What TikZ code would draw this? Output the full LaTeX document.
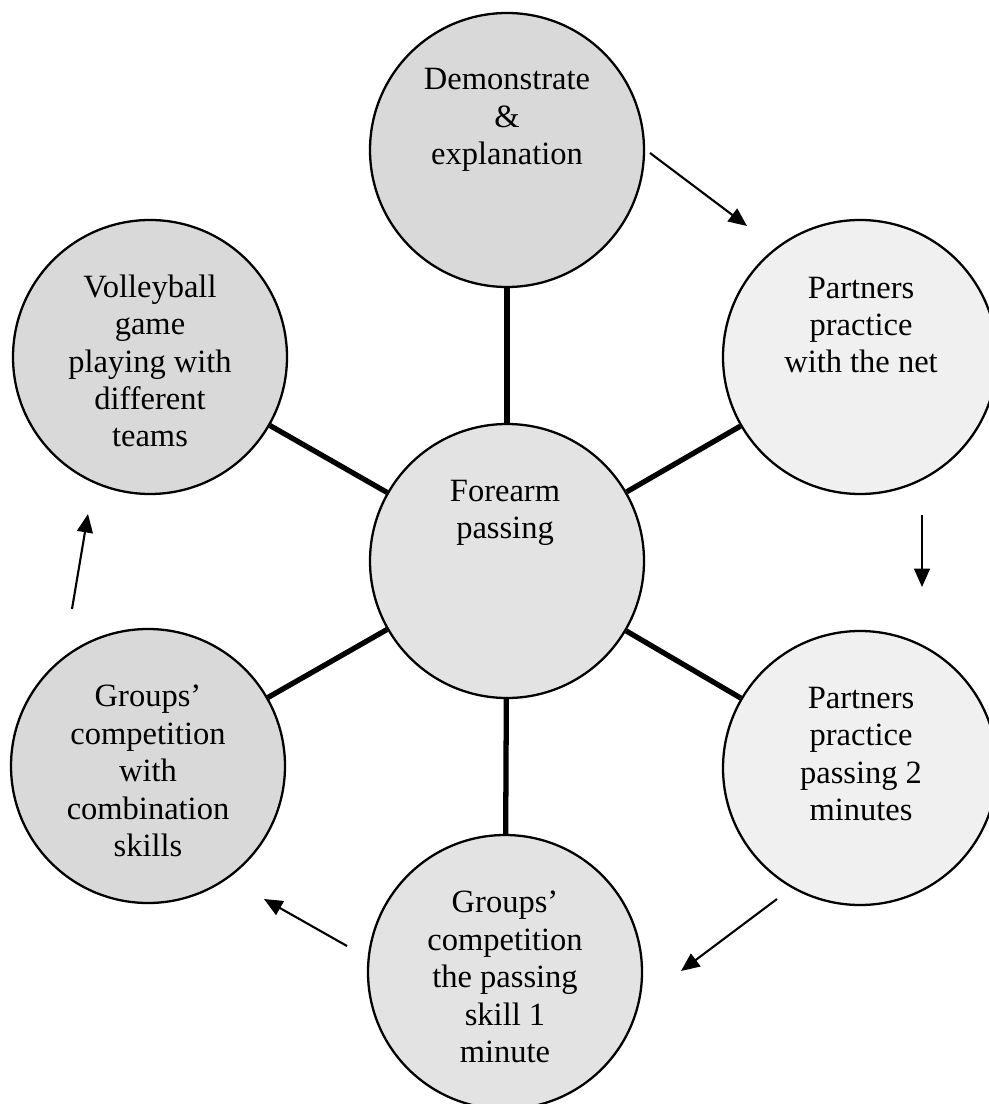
\documentclass[tikz,border=0pt]{standalone}
\usepackage{fontspec}
\setmainfont{Liberation Serif}
\usetikzlibrary{arrows.meta}
\begin{document}
\begin{tikzpicture}[x=0.02cm,y=-0.02cm,
  bubble/.style={circle,draw=black,line width=1.3pt,minimum size=274*0.02cm,inner sep=0pt},
  dense/.style={bubble,fill=gray!30},
  medium/.style={bubble,fill=gray!22},
  light/.style={bubble,fill=gray!12},
  txt/.style={align=center,font=\fontsize{18.5}{21.3}\selectfont,inner sep=0pt},
  spoke/.style={line width=3pt},
  flow/.style={line width=1.2pt,-{Triangle[length=10.5pt,width=9pt]}}]
\useasboundingbox (0,0) rectangle (989,1104);
% circles
\node[dense]  (top)  at (507,150) {};
\node[dense]  (vb)   at (150,357) {};
\node[light]  (pn)   at (860,357) {};
\node[medium] (ctr)  at (507,561) {};
\node[dense]  (gc)   at (148,766) {};
\node[light]  (pp)   at (860,768) {};
\node[medium] (bot)  at (505,972) {};
% spokes
\draw[spoke] (ctr) -- (top);
\draw[spoke] (ctr) -- (vb);
\draw[spoke] (ctr) -- (pn);
\draw[spoke] (ctr) -- (gc);
\draw[spoke] (ctr) -- (pp);
\draw[spoke] (ctr) -- (bot);
% texts
\node[txt] (ttop) at (507,120) {Demonstrate\\\&\\explanation};
\node[txt] (tvb)  at (150,361) {Volleyball\\game\\playing with\\different\\teams};
\node[txt] (tpn)  at (861,325) {Partners\\practice\\with the net};
\node[txt] (tctr) at (505,513) {Forearm\\passing};
\node[txt] (tgc)  at (148,771) {Groups’\\competition\\with\\combination\\skills};
\node[txt] (tpp)  at (861,754) {Partners\\practice\\passing 2\\minutes};
\node[txt] (tbot) at (505,977) {Groups’\\competition\\the passing\\skill 1\\minute};
% flow arrows
\coordinate (a1s) at (650,153); \coordinate (a1e) at (747,226);
\coordinate (a2s) at (922,515); \coordinate (a2e) at (922,587);
\coordinate (a3s) at (777,899); \coordinate (a3e) at (681,971);
\coordinate (a4s) at (347,946); \coordinate (a4e) at (264,899);
\coordinate (a5s) at (72,609);  \coordinate (a5e) at (88,514);
\draw[flow] (a1s) -- (a1e);
\draw[flow] (a2s) -- (a2e);
\draw[flow] (a3s) -- (a3e);
\draw[flow] (a4s) -- (a4e);
\draw[flow] (a5s) -- (a5e);
\end{tikzpicture}
\end{document}
